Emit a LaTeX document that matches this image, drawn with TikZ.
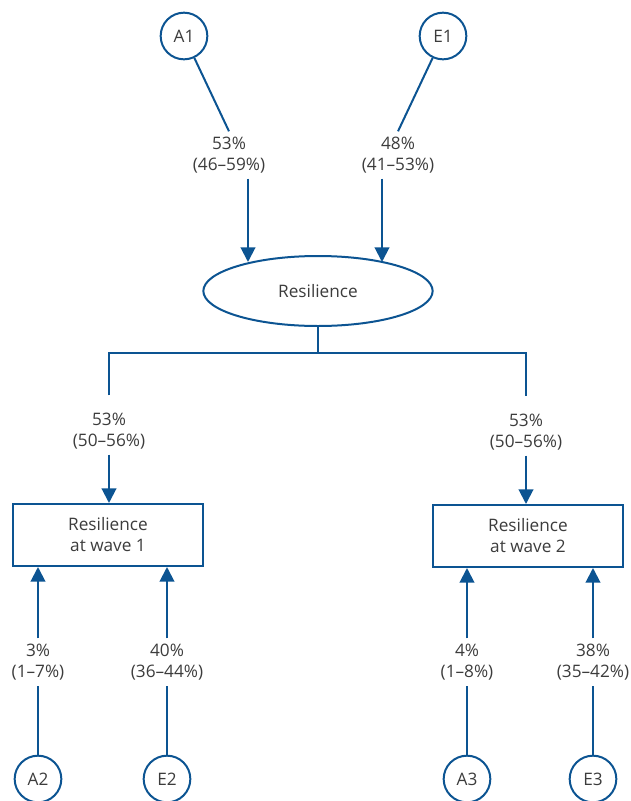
\documentclass[tikz,border=0pt]{standalone}
\usepackage{fontspec}
\setmainfont{Open Sans}
\usetikzlibrary{shapes.geometric,arrows.meta}
\definecolor{linkblue}{RGB}{12,84,146}
\definecolor{textgrey}{RGB}{60,60,60}

\begin{document}
\begin{tikzpicture}[x=0.75pt,y=-0.75pt,
	every node/.style={text=textgrey,font=\fontsize{12.9}{15.75}\selectfont},
	latent/.style={circle,draw=linkblue,line width=1.5pt,minimum size=35pt,inner sep=0pt},
	trait/.style={ellipse,draw=linkblue,line width=1.5pt,minimum width=172pt,minimum height=52.5pt},
	wave/.style={rectangle,draw=linkblue,line width=1.5pt,minimum width=142.5pt,minimum height=46.5pt,align=center},
	est/.style={align=center,inner sep=4pt},
	link/.style={draw=linkblue,line width=1.5pt},
	arr/.style={link,-{Triangle[width=11pt,length=11pt]}}]
			\useasboundingbox (0,0) rectangle (631,801);

			%top nodes
			\node[latent] (A1) at (184,36) {A1};
			\node[latent] (E1) at (443,36) {E1};
			\node[trait] (res) at (318,291) {Resilience};

			%wave nodes
			\node[wave] (w1) at (108,535) {Resilience\\at wave 1};
			\node[wave] (w2) at (528,536) {Resilience\\at wave 2};

			%bottom nodes
			\node[latent] (A2) at (38,779) {A2};
			\node[latent] (E2) at (167,779) {E2};
			\node[latent] (A3) at (467,779) {A3};
			\node[latent] (E3) at (593,779) {E3};

			%estimates
			\node[est] (eA1) at (229,155) {53\%\\(46--59\%)};
			\node[est] (eE1) at (398,155) {48\%\\(41--53\%)};
			\node[est] (eW1) at (109,431) {53\%\\(50--56\%)};
			\node[est] (eW2) at (526,432) {53\%\\(50--56\%)};
			\node[est] (eA2) at (38,662) {3\%\\(1--7\%)};
			\node[est] (eE2) at (167,662) {40\%\\(36--44\%)};
			\node[est] (eA3) at (467,662) {4\%\\(1--8\%)};
			\node[est] (eE3) at (593,662) {38\%\\(35--42\%)};

			\coordinate (tA1) at (248,262);
			\coordinate (tE1) at (382,262);
			\coordinate (split) at (318,353);

			%edges
			\draw[link] (A1) -- (eA1.north);
			\draw[link] (E1) -- (eE1.north);
			\draw[arr] (eA1.south -| tA1) -- (tA1);
			\draw[arr] (eE1.south -| tE1) -- (tE1);
			\draw[link] (res.south) -- (split);
			\draw[link] ([yshift=9pt]eW1.north) |- (split) -| ([yshift=9pt]eW2.north);
			\draw[arr] (eW1.south) -- (eW1.south |- w1.north);
			\draw[arr] (eW2.south) -- (eW2.south |- w2.north);
			\foreach \e/\w in {A2/w1,E2/w1,A3/w2,E3/w2}{
				\draw[link] (\e) -- (e\e);
				\draw[arr] (e\e) -- (e\e |- \w.south);
			}
		\end{tikzpicture}
\end{document}
